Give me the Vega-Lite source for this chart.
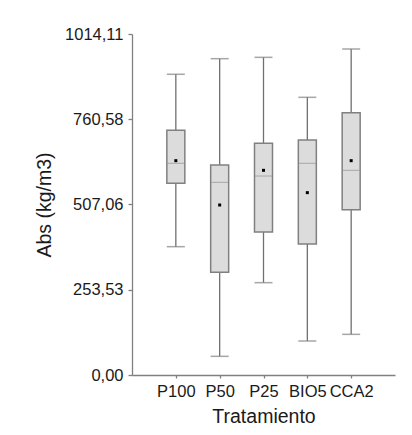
{
  "$schema": "https://vega.github.io/schema/vega-lite/v6.json",
  "width": 263,
  "height": 341,
  "autosize": {"type": "none"},
  "padding": {"left": 132, "top": 34, "right": 17, "bottom": 60},
  "background": "white",
  "config": {
    "view": {"stroke": null},
    "font": "Liberation Sans",
    "axis": {
      "labelFont": "Liberation Sans",
      "titleFont": "Liberation Sans",
      "labelFontSize": 16.5,
      "titleFontSize": 19.5,
      "titleFontWeight": "normal",
      "labelColor": "#1a1a1a",
      "titleColor": "#1a1a1a",
      "domainColor": "#808080",
      "tickColor": "#808080",
      "domainWidth": 1.3,
      "tickWidth": 1.3,
      "grid": false
    }
  },
  "data": {
    "values": [
      {"group": "P100", "min": 381.6, "q1": 570.1, "median": 629.6, "q3": 727.7, "max": 894.3, "mean": 637.4},
      {"group": "P50", "min": 55.5, "q1": 305.3, "median": 573.0, "q3": 624.5, "max": 940.7, "mean": 505.6},
      {"group": "P25", "min": 274.6, "q1": 425.3, "median": 591.8, "q3": 689.0, "max": 944.7, "mean": 608.7},
      {"group": "BIO5", "min": 101.1, "q1": 389.6, "median": 629.6, "q3": 698.9, "max": 825.8, "mean": 542.3},
      {"group": "CCA2", "min": 120.9, "q1": 491.7, "median": 608.7, "q3": 780.2, "max": 969.5, "mean": 637.4}
    ]
  },
  "encoding": {
    "x": {
      "field": "group",
      "type": "nominal",
      "sort": null,
      "title": "Tratamiento",
      "scale": {"type": "point", "padding": 1},
      "axis": {"labelAngle": 0, "tickSize": 3, "labelPadding": 5, "titlePadding": 8, "labelOverlap": false}
    }
  },
  "layer": [
    {
      "mark": {"type": "rule", "color": "#707070", "strokeWidth": 1.3},
      "encoding": {
        "y": {
          "field": "min",
          "type": "quantitative",
          "title": "Abs (kg/m3)",
          "scale": {"domain": [0, 1014.11], "nice": false, "zero": false},
          "axis": {
            "values": [0, 253.53, 507.06, 760.58, 1014.11],
            "labelExpr": "replace(format(datum.value, '.2f'), '.', ',')",
            "tickSize": 4,
            "labelPadding": 5,
            "titlePadding": 10
          }
        },
        "y2": {"field": "max"}
      }
    },
    {
      "mark": {"type": "tick", "color": "#808080", "size": 18, "thickness": 1.5},
      "encoding": {"y": {"field": "min", "type": "quantitative"}}
    },
    {
      "mark": {"type": "tick", "color": "#808080", "size": 18, "thickness": 1.5},
      "encoding": {"y": {"field": "max", "type": "quantitative"}}
    },
    {
      "mark": {"type": "bar", "size": 18, "fill": "#dcdcdc", "stroke": "#808080", "strokeWidth": 1.5},
      "encoding": {
        "y": {"field": "q1", "type": "quantitative"},
        "y2": {"field": "q3"}
      }
    },
    {
      "mark": {"type": "tick", "color": "#909090", "size": 17, "thickness": 1},
      "encoding": {"y": {"field": "median", "type": "quantitative"}}
    },
    {
      "mark": {"type": "point", "shape": "square", "filled": true, "color": "black", "size": 9, "opacity": 1},
      "encoding": {"y": {"field": "mean", "type": "quantitative"}}
    }
  ]
}
